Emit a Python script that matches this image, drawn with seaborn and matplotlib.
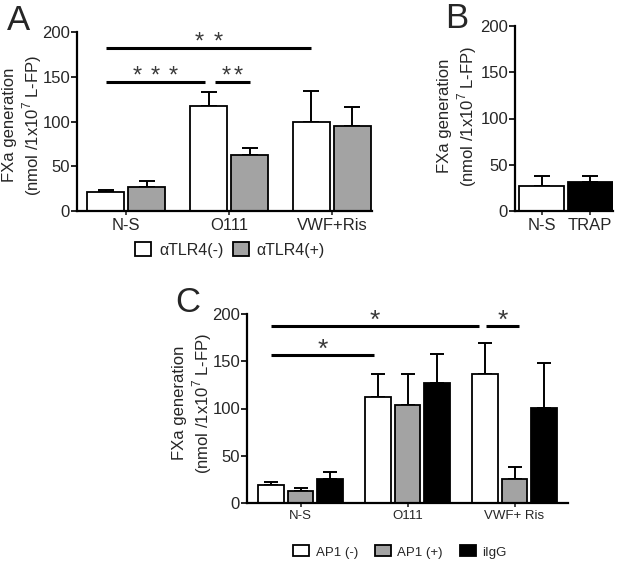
import matplotlib
matplotlib.use("Agg")
import matplotlib.pyplot as plt
from matplotlib.container import BarContainer
import seaborn as sns
import pandas as pd
import numpy as np
from matplotlib.patches import Patch

sns.set_style("ticks")
plt.rcParams['font.family'] = ['Liberation Sans', 'DejaVu Sans']
plt.rcParams['mathtext.fontset'] = 'custom'
plt.rcParams['mathtext.rm'] = 'Liberation Sans'

# ---- Data ----
a_categories = ["N-S", "O111", "VWF+Ris"]
a_groups = ["αTLR4(-)", "αTLR4(+)"]
a_minus = [21, 117, 100]
a_minus_err = [3, 16, 34]
a_plus = [27, 63, 95]
a_plus_err = [7, 7.5, 21]

b_categories = ["N-S", "TRAP"]
b_values = [27, 31]
b_err = [10.5, 6.5]

c_categories = ["N-S", "O111", "VWF+ Ris"]
c_groups = ["AP1 (-)", "AP1 (+)", "iIgG"]
c_ap1_minus = [19.5, 112, 136]
c_ap1_minus_err = [3, 24, 33]
c_ap1_plus = [13, 104, 25]
c_ap1_plus_err = [2.5, 32, 13]
c_iigg = [25, 127, 100.5]
c_iigg_err = [8, 31, 48]

GRAY = "#a3a3a3"
YLABEL = "FXa generation\n(nmol /1x10$^{7}$ L-FP)"
STAR = "#3a3a3a"

W, H = 625, 563
fig = plt.figure(figsize=(W / 100, H / 100), dpi=100)
axA = fig.add_axes([77 / W, 1 - 211 / H, 295 / W, 179 / H])
axB = fig.add_axes([515 / W, 1 - 211 / H, 98 / W, 185 / H])
axC = fig.add_axes([247 / W, 1 - 503 / H, 321 / W, 189 / H])


def style(ax, label_x, label_y, xfs=12):
    for s in ["top", "right"]:
        ax.spines[s].set_visible(False)
    for s in ["left", "bottom"]:
        ax.spines[s].set_linewidth(1.6)
        ax.spines[s].set_color("black")
    ax.set_ylim(0, 200)
    ax.set_yticks([0, 50, 100, 150, 200])
    ax.tick_params(axis="y", direction="out", length=4, width=1.4, labelsize=12, pad=1)
    ax.tick_params(axis="x", direction="out", length=3, width=1.2, labelsize=xfs, pad=2)
    ax.set_xlabel("")
    ax.set_ylabel(YLABEL, fontsize=12, linespacing=1.2)
    ax.yaxis.set_label_coords(label_x / W, 1 - label_y / H, transform=fig.transFigure)


def centers_heights(ax):
    out = []
    for cont in ax.containers:
        if not isinstance(cont, BarContainer):
            continue
        xs = [p.get_x() + p.get_width() / 2 for p in cont.patches]
        hs = [p.get_height() for p in cont.patches]
        out.append((xs, hs))
    return out


def add_err(ax, errs, capsize):
    for (xs, hs), e in zip(centers_heights(ax), errs):
        ax.errorbar(xs, hs, yerr=[np.zeros(len(e)), e], fmt="none", ecolor="black",
                    elinewidth=1.4, capsize=capsize, capthick=1.4, zorder=1)


def sig(ax, x0, x1, y, nstars, spacing_pt, ty, fs=17):
    ax.plot([x0, x1], [y, y], color="black", lw=2.2, clip_on=False,
            solid_capstyle="butt")
    xm = (x0 + x1) / 2
    offs = (np.arange(nstars) - (nstars - 1) / 2) * spacing_pt
    for o in offs:
        ax.annotate("*", xy=(xm, ty), xytext=(o, 0), textcoords="offset points",
                    ha="center", va="baseline", fontsize=fs, color=STAR,
                    annotation_clip=False)

# ---- Panel A ----
dfA = pd.DataFrame({
    "cat": a_categories * 2,
    "grp": [a_groups[0]] * 3 + [a_groups[1]] * 3,
    "val": a_minus + a_plus,
})
sns.barplot(data=dfA, x="cat", y="val", hue="grp", palette=["white", GRAY],
            edgecolor="black", linewidth=1.3, width=0.8, gap=0.1, errorbar=None,
            legend=False, ax=axA, zorder=2)
add_err(axA, [a_minus_err, a_plus_err], 6)
style(axA, 44, 125)
axA.set_xlim(-0.48, 2.39)
cA = centers_heights(axA)
sig(axA, cA[0][0][0], cA[0][0][2], 182.5, 2, 13.5, 181.5)
sig(axA, cA[0][0][0], cA[0][0][1] - 0.03, 144, 3, 13, 143)
sig(axA, cA[0][0][1] + 0.06, cA[1][0][1], 144, 2, 8.5, 143)
fig.legend(handles=[Patch(facecolor="white", edgecolor="black", lw=1.3),
                    Patch(facecolor=GRAY, edgecolor="black", lw=1.3)],
           labels=a_groups, loc="center", bbox_to_anchor=(230 / W, 1 - 250 / H), ncol=2,
           frameon=False, fontsize=11.5, handlelength=1.0, handleheight=1.0,
           handletextpad=0.5, columnspacing=0.6)

# ---- Panel B ----
sns.barplot(x=b_categories, y=b_values, hue=b_categories, palette=["white", "black"],
            edgecolor="black", linewidth=1.3, width=0.93, errorbar=None,
            legend=False, ax=axB, zorder=2)
xsB = [p.get_x() + p.get_width() / 2 for p in axB.patches]
hsB = [p.get_height() for p in axB.patches]
axB.errorbar(xsB, hsB, yerr=[np.zeros(2), b_err], fmt="none", ecolor="black",
             elinewidth=1.4, capsize=6, capthick=1.4, zorder=1)
style(axB, 479, 116)
axB.set_xlim(-0.55, 1.47)

# ---- Panel C ----
dfC = pd.DataFrame({
    "cat": c_categories * 3,
    "grp": [c_groups[0]] * 3 + [c_groups[1]] * 3 + [c_groups[2]] * 3,
    "val": c_ap1_minus + c_ap1_plus + c_iigg,
})
sns.barplot(data=dfC, x="cat", y="val", hue="grp", palette=["white", GRAY, "black"],
            edgecolor="black", linewidth=1.3, width=0.82, gap=0.12, errorbar=None,
            legend=False, ax=axC, zorder=2)
add_err(axC, [c_ap1_minus_err, c_ap1_plus_err, c_iigg_err], 5)
style(axC, 214, 403, xfs=9.5)
axC.set_xlim(-0.5, 2.5)
cC = centers_heights(axC)
sig(axC, cC[0][0][0], cC[0][0][2] - 0.06, 187, 1, 0, 185.5, 19)
sig(axC, cC[0][0][0], cC[0][0][1] - 0.04, 156.5, 1, 0, 155, 19)
sig(axC, cC[0][0][2] + 0.01, cC[1][0][2] + 0.04, 187, 1, 0, 185.5, 19)
fig.legend(handles=[Patch(facecolor="white", edgecolor="black", lw=1.3),
                    Patch(facecolor=GRAY, edgecolor="black", lw=1.3),
                    Patch(facecolor="black", edgecolor="black", lw=1.3)],
           labels=c_groups, loc="center", bbox_to_anchor=(400 / W, 1 - 552 / H), ncol=3,
           frameon=False, fontsize=9.5, handlelength=1.2, handleheight=0.9,
           handletextpad=0.5, columnspacing=1.3)

# ---- Panel letters ----
fig.text(7 / W, 1 - 30 / H, "A", fontsize=25, ha="left", va="baseline")
fig.text(445 / W, 1 - 28 / H, "B", fontsize=25, ha="left", va="baseline")
fig.text(175 / W, 1 - 312 / H, "C", fontsize=25, ha="left", va="baseline")

fig.savefig("out.png", dpi=100)
